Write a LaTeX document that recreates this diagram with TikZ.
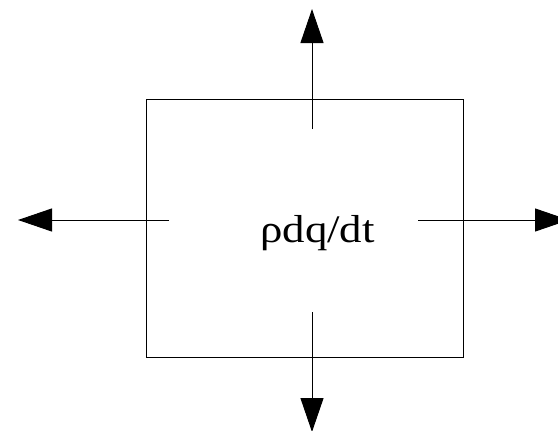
\documentclass[tikz,border=0pt]{standalone}
\usepackage{fontspec}
\setmainfont{Liberation Serif}
\newfontfamily\labfont[FakeStretch=1.15]{Liberation Serif}
\usetikzlibrary{arrows.meta}
\tikzset{
  flux/.style={line width=1pt, -{Triangle[length=34pt,width=23pt]}},
  boxstyle/.style={draw, line width=1pt, inner sep=0pt, minimum width=316.5pt, minimum height=258pt}
}
\begin{document}
\begin{tikzpicture}[x=1pt,y=-1pt]
\useasboundingbox (0,0) rectangle (558,431);
\node[boxstyle] (box) at (304.75,228) {};
\node[anchor=base, inner sep=0pt, font=\labfont\fontsize{39}{44}\selectfont] (lab) at (317.5,242) {ρdq/dt};
\coordinate (t0) at (312,129); \coordinate (t1) at (312,9);
\coordinate (b0) at (312,312); \coordinate (b1) at (312,432);
\coordinate (l0) at (169,220); \coordinate (l1) at (18,220);
\coordinate (r0) at (418,220); \coordinate (r1) at (569,220);
\draw[flux] (t0) -- (t1);
\draw[flux] (b0) -- (b1);
\draw[flux] (l0) -- (l1);
\draw[flux] (r0) -- (r1);
\end{tikzpicture}
\end{document}
